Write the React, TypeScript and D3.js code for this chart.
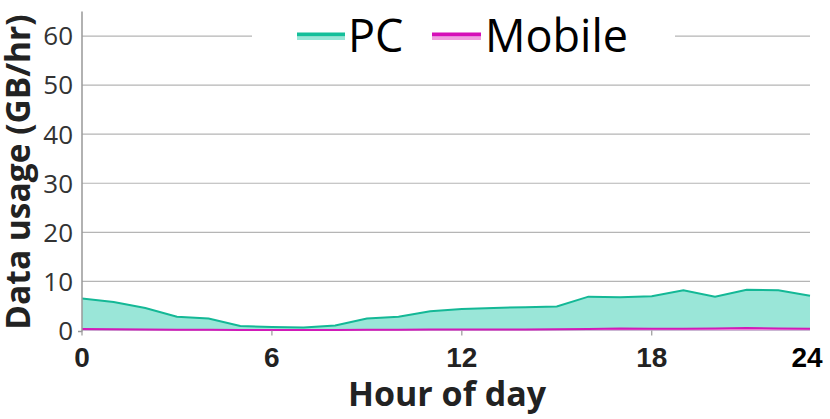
import React from "react";
import * as d3 from "d3";

const hours = [0,1,2,3,4,5,6,7,8,9,10,11,12,13,14,15,16,17,18,19,20,21,22,23];
const pcUsage = [6.5,5.8,4.6,2.8,2.45,0.9,0.7,0.6,1.0,2.45,2.8,3.9,4.4,4.6,4.75,4.9,6.9,6.8,7.0,8.2,6.9,8.3,8.2,7.1];
const mobileUsage = [0.3,0.25,0.2,0.15,0.15,0.1,0.1,0.1,0.1,0.15,0.15,0.2,0.2,0.2,0.2,0.25,0.3,0.4,0.35,0.35,0.4,0.5,0.4,0.35];
const yTicks = [0,10,20,30,40,50,60];
const xTicks = [0,6,12,18];
const seriesNames = ["PC","Mobile"];

const W = 830, H = 419;
const left = 82, right = 810, top = 11.5, bottom = 330.5;

export default function App() {
  const x = d3.scaleLinear().domain([0, 23]).range([left, right]);
  const y = d3.scaleLinear().domain([0, 65]).range([bottom, top]);
  const pcArea = d3.area<number>().x((_, i) => x(hours[i])).y0(y(0)).y1(d => y(d));
  const pcLine = d3.line<number>().x((_, i) => x(hours[i])).y(d => y(d));
  const mobArea = d3.area<number>().x((_, i) => x(hours[i])).y0(y(0)).y1(d => y(d));
  const mobLine = d3.line<number>().x((_, i) => x(hours[i])).y(d => y(d));
  const font = "'Open Sans', sans-serif";
  const tickFont = "'Liberation Sans', Arial, sans-serif";
  return (
    <svg width={W} height={H} style={{ position: "absolute", left: 0, top: 0, background: "#fff" }}>
      {yTicks.map(t => (
        <g key={t}>
          <line x1={left} x2={right} y1={y(t)} y2={y(t)} stroke="#b5b5b5" strokeWidth={1.2} />
          <text x={73} y={y(t)} dy="0.36em" textAnchor="end" fontFamily={font} fontSize={26} fill="#333">{t}</text>
        </g>
      ))}
      <path d={pcArea(pcUsage) || ""} fill="#9ae6d8" />
      <path d={pcLine(pcUsage) || ""} fill="none" stroke="#14b896" strokeWidth={2} />
      <path d={mobArea(mobileUsage) || ""} fill="#f0a0e0" />
      <path d={mobLine(mobileUsage) || ""} fill="none" stroke="#d21ab8" strokeWidth={2} />
      <line x1={left} x2={left} y1={top} y2={bottom + 1} stroke="#999" strokeWidth={1.5} />
      <line x1={left - 4} x2={left} y1={bottom + 1} y2={bottom + 1} stroke="#999" strokeWidth={1.5} />
      {xTicks.map(t => (
        <g key={t}>
          <line x1={x(t)} x2={x(t)} y1={bottom} y2={bottom + 5} stroke="#999" strokeWidth={1.2} />
          <text x={x(t)} y={367} textAnchor="middle" fontFamily={tickFont} fontWeight="bold" fontSize={28} fill="#222">{t}</text>
        </g>
      ))}
      <text x={x(23) - 3} y={367} textAnchor="middle" fontFamily={tickFont} fontWeight="bold" fontSize={28} fill="#000">24</text>
      <text x={447} y={406} textAnchor="middle" fontFamily={font} fontWeight="bold" fontSize={34} fill="#222">Hour of day</text>
      <text transform={`translate(30,${(top + bottom) / 2 + 1}) rotate(-90)`} textAnchor="middle" fontFamily={font} fontWeight="bold" fontSize={33.5} fill="#222">Data usage (GB/hr)</text>
      <rect x={252} y={12} width={423} height={46} fill="#fff" />
      <g>
        <line x1={297} x2={345} y1={34.5} y2={34.5} stroke="#14bf9a" strokeWidth={4} />
        <line x1={297} x2={345} y1={38.5} y2={38.5} stroke="#9ae6d8" strokeWidth={3} />
        <text x={348} y={52} fontFamily={font} fontSize={45} fill="#000">{seriesNames[0]}</text>
        <line x1={432} x2={481} y1={34.5} y2={34.5} stroke="#d50fb8" strokeWidth={4} />
        <line x1={432} x2={481} y1={38.5} y2={38.5} stroke="#f0a0e0" strokeWidth={3} />
        <text x={485} y={52} fontFamily={font} fontSize={45} fill="#000">{seriesNames[1]}</text>
      </g>
    </svg>
  );
}
